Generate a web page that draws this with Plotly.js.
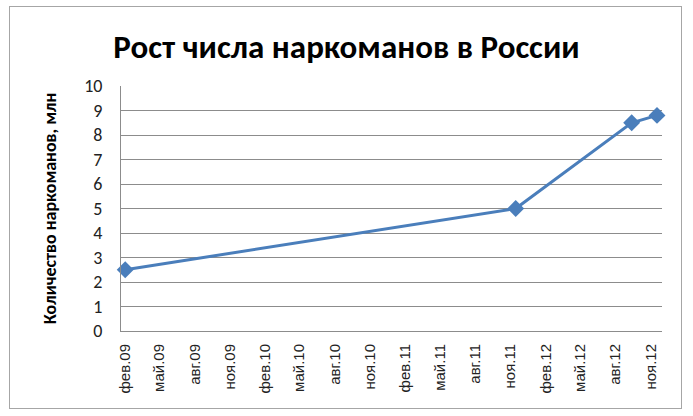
<!DOCTYPE html>
<html>
<head>
<meta charset="utf-8">
<script src="https://cdn.plot.ly/plotly-3.0.1.min.js"></script>
<style>
  body { margin: 0; background: #fff; }
  #wrap { position: relative; width: 693px; height: 416px; }
  #chart { width: 693px; height: 416px; }
  #frame {
    position: absolute; left: 9px; top: 6px; width: 671px; height: 401px;
    border: 1.5px solid #a6a6a6; pointer-events: none;
  }
</style>
</head>
<body>
<div id="wrap">
  <div id="chart"></div>
  <div id="frame"></div>
</div>
<script>
// data
var dates = ['2009-02-01', '2011-11-15', '2012-09-12', '2012-11-17'];
var addicts = [2.5, 5, 8.5, 8.8];

var tickDates = ['2009-02-01', '2009-05-01', '2009-08-01', '2009-11-01',
                 '2010-02-01', '2010-05-01', '2010-08-01', '2010-11-01',
                 '2011-02-01', '2011-05-01', '2011-08-01', '2011-11-01',
                 '2012-02-01', '2012-05-01', '2012-08-01', '2012-11-01'];
var tickLabels = ['фев.09', 'май.09', 'авг.09', 'ноя.09',
                  'фев.10', 'май.10', 'авг.10', 'ноя.10',
                  'фев.11', 'май.11', 'авг.11', 'ноя.11',
                  'фев.12', 'май.12', 'авг.12', 'ноя.12'];

var yTicks = [0, 1, 2, 3, 4, 5, 6, 7, 8, 9, 10];

var blue = '#4a7ebb';
var grid = '#8c8c8c';

var trace = {
    x: dates,
    y: addicts,
    mode: 'lines+markers',
    type: 'scatter',
    line: {color: blue, width: 3},
    marker: {symbol: 'diamond', size: 13, color: blue},
    cliponaxis: false,
    hoverinfo: 'x+y'
};

var layout = {
    width: 693,
    height: 416,
    margin: {l: 121, r: 31, t: 86, b: 85},
    paper_bgcolor: '#ffffff',
    plot_bgcolor: '#ffffff',
    showlegend: false,
    font: {family: 'Carlito, "Open Sans", sans-serif', color: '#000'},
    title: {
        text: '<b>Рост числа наркоманов в России</b>',
        font: {family: 'Carlito, "Open Sans", sans-serif', size: 33, color: '#000'},
        x: 0.5, xref: 'container',
        y: 0.888, yref: 'container', yanchor: 'middle'
    },
    xaxis: {
        type: 'date',
        range: ['2009-01-21', '2012-11-30'],
        tickvals: tickDates,
        ticktext: tickLabels,
        tickangle: -90,
        tickfont: {family: '"Liberation Sans", Arial, sans-serif', size: 15, color: '#222'},
        showgrid: false,
        zeroline: false,
        showline: true,
        linecolor: grid,
        linewidth: 1,
        ticks: '',
        ticklabelstandoff: 6,
        fixedrange: true
    },
    yaxis: {
        range: [0, 10],
        tickvals: yTicks,
        tickfont: {family: 'Carlito, "Liberation Sans", sans-serif', size: 18, color: '#222'},
        showgrid: true,
        gridcolor: grid,
        gridwidth: 1,
        zeroline: false,
        showline: true,
        linecolor: grid,
        linewidth: 1,
        ticks: '',
        ticklabelstandoff: 14,
        title: {
            text: '<b>Количество наркоманов, млн</b>',
            font: {family: 'Carlito, "Open Sans", sans-serif', size: 18, color: '#000'},
            standoff: 22
        },
        fixedrange: true
    }
};

Plotly.newPlot('chart', [trace], layout, {displayModeBar: false, staticPlot: true});
</script>
</body>
</html>
